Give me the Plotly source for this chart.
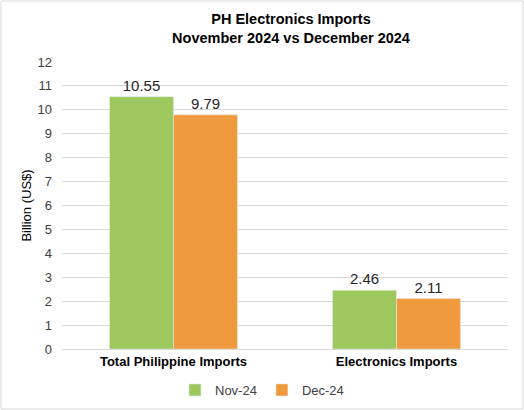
import plotly.graph_objects as go

categories = ["Total Philippine Imports", "Electronics Imports"]
nov_24 = [10.55, 2.46]
dec_24 = [9.79, 2.11]
y_ticks = list(range(0, 13))

W, H = 524, 410
ml, mr, mt, mb = 62, 16, 62, 61
pw, ph = W - ml - mr, H - mt - mb

fig = go.Figure()
fig.add_trace(go.Bar(
    x=categories, y=nov_24, name="Nov-24",
    marker=dict(color="#9DC85E"),
    text=[f"{v:.2f}" for v in nov_24], textposition="outside",
    textfont=dict(size=15, color="#262626"), cliponaxis=False,
))
fig.add_trace(go.Bar(
    x=categories, y=dec_24, name="Dec-24",
    marker=dict(color="#F09A3E"),
    text=[f"{v:.2f}" for v in dec_24], textposition="outside",
    textfont=dict(size=15, color="#262626"), cliponaxis=False,
))

# outer frame around the whole chart
fig.add_shape(
    type="rect", xref="paper", yref="paper",
    x0=-(ml - 1) / pw, x1=1 + (mr - 1) / pw,
    y0=-(mb - 1) / ph, y1=1 + (mt - 1) / ph,
    line=dict(color="#D9D9D9", width=1), layer="below",
)

fig.update_layout(
    width=W, height=H,
    margin=dict(l=ml, r=mr, t=mt, b=mb, autoexpand=False),
    paper_bgcolor="white", plot_bgcolor="white",
    font=dict(family="Liberation Sans, Arial", color="#404040"),
    title=dict(
        text="<b>PH Electronics Imports<br>November 2024 vs December 2024</b>",
        x=291 / W, xanchor="center", y=1 - 24 / H, yanchor="top",
        font=dict(size=14.5, color="#000000"),
    ),
    barmode="group", bargap=0.426, bargroupgap=0,
    xaxis=dict(
        automargin=False,
        tickfont=dict(size=13, color="#000000"),
        tickprefix="<b>", ticksuffix="</b>",
        showline=True, linecolor="#D9D9D9", ticks="",
    ),
    yaxis=dict(
        automargin=False,
        range=[0, 12], tickvals=y_ticks,
        tickfont=dict(size=13, color="#404040"),
        ticklabelstandoff=9,
        showgrid=True, gridcolor="#D9D9D9", zeroline=False,
        title=dict(text="Billion (US$)", font=dict(size=13, color="#000000"), standoff=2),
    ),
    legend=dict(
        orientation="h", xref="container", x=0.5, xanchor="center",
        yref="container", y=1 - 390 / H, yanchor="middle",
        font=dict(size=13, color="#404040"), itemwidth=30,
    ),
    showlegend=True,
)

# drop the default page margin so the chart sits at the window corner
fig.write_html(
    "out.html",
    config={"displayModeBar": False},
    post_script="document.body.style.margin='0';",
)
